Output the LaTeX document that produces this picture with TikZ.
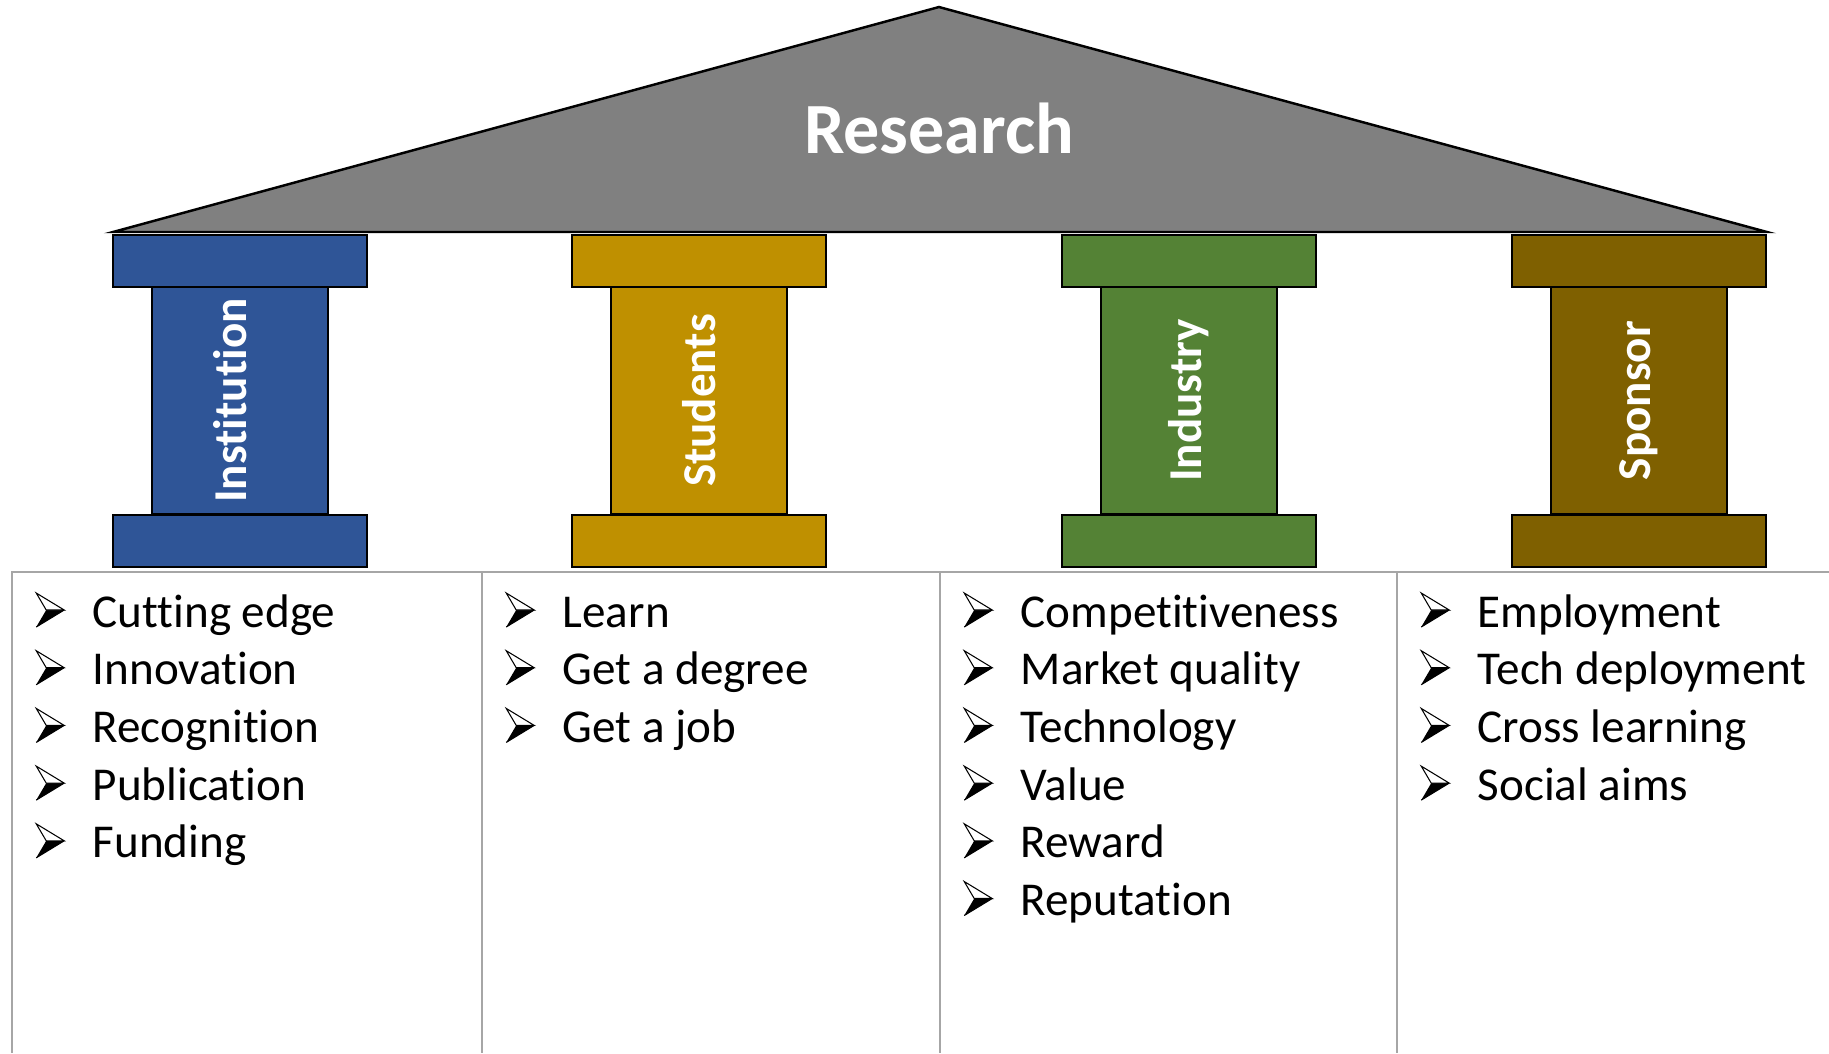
\documentclass[tikz,border=0pt]{standalone}
\usepackage{fontspec}
\setmainfont{Carlito}[Ligatures=NoCommon]
\usetikzlibrary{positioning}

\definecolor{instblue}{HTML}{2F5597}
\definecolor{studgold}{HTML}{BF9000}
\definecolor{indgreen}{HTML}{548235}
\definecolor{sponbrown}{HTML}{7F6000}
\definecolor{roofgray}{HTML}{808080}
\definecolor{gridgray}{HTML}{A6A6A6}

% arrowhead bullet, top facet white, bottom facet black
\newcommand{\bul}{\makebox[0.57cm][l]{\tikz[baseline=0pt, x=0.01cm, y=0.01cm, line width=0.3pt, line join=miter]{
    \fill[black] (0,0) -- (28,17) -- (10,17) -- cycle;
    \draw[black, fill=white] (0,34) -- (28,17) -- (10,17) -- cycle;
    \draw[black] (0,0) -- (28,17);}}}

\begin{document}
\begin{tikzpicture}[
    x=0.01cm, y=-0.01cm,
    roof/.style={draw=black, line width=0.7pt, fill=roofgray, line join=miter},
    capbox/.style={draw=black, line width=0.7pt, minimum width=2.54cm, minimum height=0.52cm, inner sep=0pt},
    shaft/.style={draw=black, line width=0.7pt, minimum width=1.76cm, minimum height=2.27cm, inner sep=0pt},
    pillarlabel/.style={rotate=90, text=white, inner sep=0pt, font=\fontsize{13.4pt}{16pt}\selectfont\bfseries},
    grid/.style={draw=gridgray, line width=0.55pt},
    item/.style={anchor=base west, inner sep=0pt, font=\fontsize{13.4pt}{16.4pt}\selectfont}
]
\useasboundingbox (0,0) rectangle (1829,1053);

% roof
\draw[roof] (113,232) -- (939,7) -- (1767,232) -- cycle;
\node[anchor=base, text=white, font=\fontsize{20.5pt}{24pt}\selectfont\bfseries] (research) at (939,153) {Research};

% pillars
\node[shaft, fill=instblue] (inst) at (240,400.5) {};
\node[capbox, fill=instblue] (inst-top) at (240,261) {};
\node[capbox, fill=instblue] (inst-base) at (240,541) {};
\node[pillarlabel] (inst-label) at ([xshift=-0.1cm]inst.center) {Institution};

\node[shaft, fill=studgold] (stud) at (699,400.5) {};
\node[capbox, fill=studgold] (stud-top) at (699,261) {};
\node[capbox, fill=studgold] (stud-base) at (699,541) {};
\node[pillarlabel] (stud-label) at (stud.center) {Students};

\node[shaft, fill=indgreen] (ind) at (1189,400.5) {};
\node[capbox, fill=indgreen] (ind-top) at (1189,261) {};
\node[capbox, fill=indgreen] (ind-base) at (1189,541) {};
\node[pillarlabel] (ind-label) at (ind.center) {Industry};

\node[shaft, fill=sponbrown] (spon) at (1639,400.5) {};
\node[capbox, fill=sponbrown] (spon-top) at (1639,261) {};
\node[capbox, fill=sponbrown] (spon-base) at (1639,541) {};
\node[pillarlabel] (spon-label) at (spon.center) {Sponsor};

% table
\draw[grid] (12,1053) -- (12,572) -- (1829,572);
\foreach \x in {482,940,1397}
  \draw[grid] (\x,572) -- (\x,1053);

% lists
\foreach \t [count=\i from 0] in {Cutting edge, Innovation, Recognition, Publication, Funding}
  \node[item] (inst-item\i) at (35,{627+57.7*\i}) {\bul\t};
\foreach \t [count=\i from 0] in {Learn, Get a degree, Get a job}
  \node[item] (stud-item\i) at (505,{627+57.7*\i}) {\bul\t};
\foreach \t [count=\i from 0] in {Competitiveness, Market quality, Technology, Value, Reward, Reputation}
  \node[item] (ind-item\i) at (963,{627+57.7*\i}) {\bul\t};
\foreach \t [count=\i from 0] in {Employment, Tech deployment, Cross learning, Social aims}
  \node[item] (spon-item\i) at (1420,{627+57.7*\i}) {\bul\t};

\end{tikzpicture}
\end{document}
